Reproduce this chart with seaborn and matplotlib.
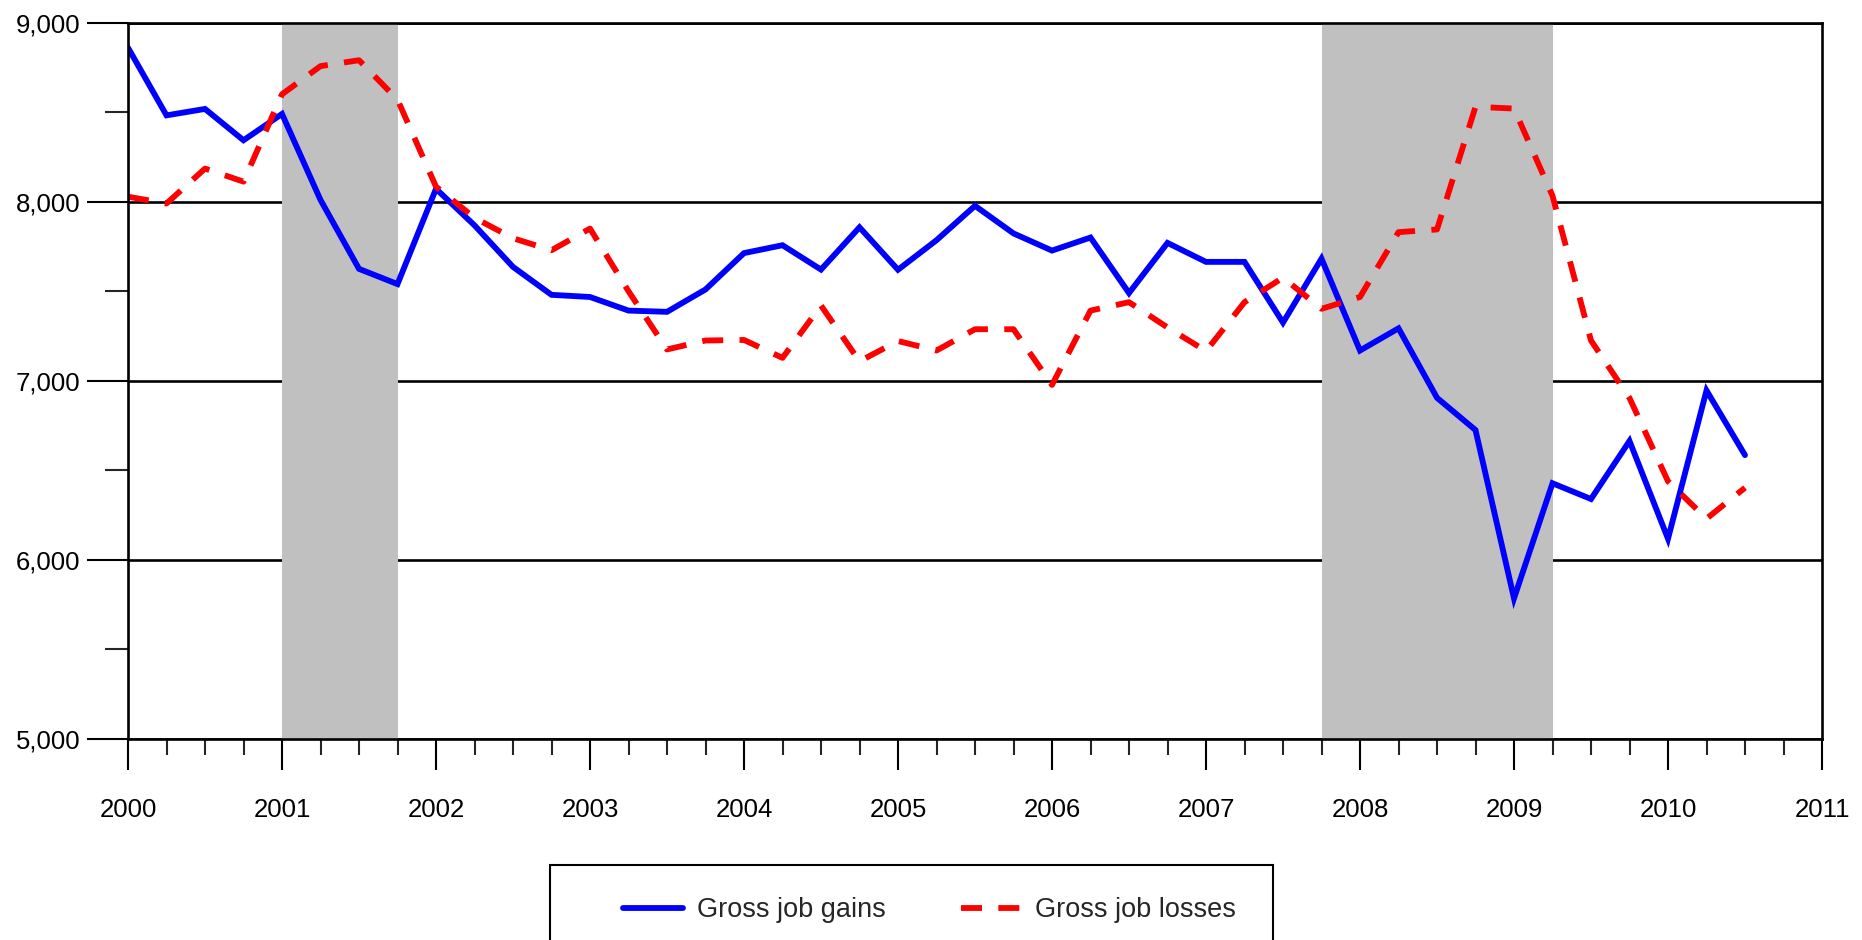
import pandas as pd
import matplotlib.pyplot as plt
import seaborn as sns
from matplotlib.patches import Rectangle
from matplotlib.ticker import FuncFormatter, MultipleLocator

quarters = pd.period_range('2000Q1', '2010Q3', freq='Q')

gains = [8860, 8482, 8518, 8343,
         8490, 8010, 7625, 7540,
         8072, 7868, 7636, 7480,
         7468, 7392, 7385, 7510,
         7713, 7757, 7621, 7857,
         7620, 7785, 7977, 7823,
         7727, 7800, 7490, 7770,
         7664, 7664, 7325, 7682,
         7169, 7293, 6905, 6725,
         5785, 6428, 6340, 6664,
         6118, 6946, 6585]

losses = [8028, 7990, 8185, 8112,
          8600, 8757, 8790, 8570,
          8084, 7910, 7796, 7729,
          7850, 7500, 7175, 7225,
          7228, 7128, 7420, 7109,
          7222, 7169, 7288, 7288,
          6977, 7392, 7439, 7298,
          7166, 7439, 7576, 7402,
          7468, 7830, 7845, 8530,
          8520, 8033, 7225, 6904,
          6439, 6230, 6403]

recessions = [(2001.0, 2001.75), (2007.75, 2009.25)]
year_ticks = list(range(2000, 2012))

df = pd.DataFrame({
    'x': [q.year + (q.quarter - 1) / 4 for q in quarters],
    'gains': gains,
    'losses': losses,
})

sns.set_style('white')
plt.rcParams['font.family'] = ['Liberation Sans', 'DejaVu Sans']

fig = plt.figure(figsize=(18.62, 9.40), dpi=100)
ax = fig.add_axes([128 / 1862, 1 - 739 / 940, (1822 - 128) / 1862, (739 - 22.6) / 940])

for start, end in recessions:
    ax.axvspan(start, end, color='#C0C0C0', lw=0, zorder=1)

sns.lineplot(data=df, x='x', y='gains', ax=ax, color='#0000FF', linewidth=4.2,
             label='Gross job gains', zorder=3, legend=False)
sns.lineplot(data=df, x='x', y='losses', ax=ax, color='#FF0000', linewidth=4.2,
             label='Gross job losses', zorder=4, legend=False)
ax.lines[1].set_linestyle((0, (3.6, 2.8)))
for ln in ax.lines:
    ln.set_solid_joinstyle('miter')

ax.set_xlim(2000, 2011)
ax.set_ylim(5000, 9000)
ax.set_xticks(year_ticks)
ax.set_xticklabels([str(y) for y in year_ticks])
ax.xaxis.set_minor_locator(MultipleLocator(0.25))
ax.yaxis.set_major_locator(MultipleLocator(1000))
ax.yaxis.set_minor_locator(MultipleLocator(500))
ax.yaxis.set_major_formatter(FuncFormatter(lambda v, p: f'{int(v):,}'))
ax.set_xlabel('')
ax.set_ylabel('')

ax.set_axisbelow(True)
ax.yaxis.grid(True, which='major', color='black', lw=1.9)
ax.xaxis.grid(False)

ax.tick_params(axis='y', which='major', length=29.5, width=1.5, direction='out',
               left=True, labelsize=18.5, pad=5, colors='black')
ax.tick_params(axis='y', which='minor', length=16.6, width=1.5, direction='out', left=True)
ax.tick_params(axis='x', which='major', length=22.3, width=1.5, direction='out',
               bottom=True, labelsize=18.5, pad=20.5, colors='black')
ax.tick_params(axis='x', which='minor', length=11.5, width=1.5, direction='out', bottom=True)

for side in ['left', 'right', 'top', 'bottom']:
    ax.spines[side].set_visible(True)
    ax.spines[side].set_color('black')
    ax.spines[side].set_linewidth(1.9)
    ax.spines[side].set_zorder(5)

# legend box runs off the bottom of the figure
fig.patches.append(Rectangle((550 / 1862, -0.06), 723 / 1862, 0.06 + (1 - 865 / 940),
                             transform=fig.transFigure, facecolor='white',
                             edgecolor='black', lw=1.5, zorder=0))
handles, labels = ax.get_legend_handles_labels()
fig.legend(handles, labels, loc='center left', bbox_to_anchor=(623 / 1862, 1 - 910 / 940),
           ncol=2, frameon=False, fontsize=19.5, handlelength=2.2, handletextpad=0.55,
           columnspacing=2.75, borderpad=0, borderaxespad=0)

fig.savefig('out.png', dpi=100)
